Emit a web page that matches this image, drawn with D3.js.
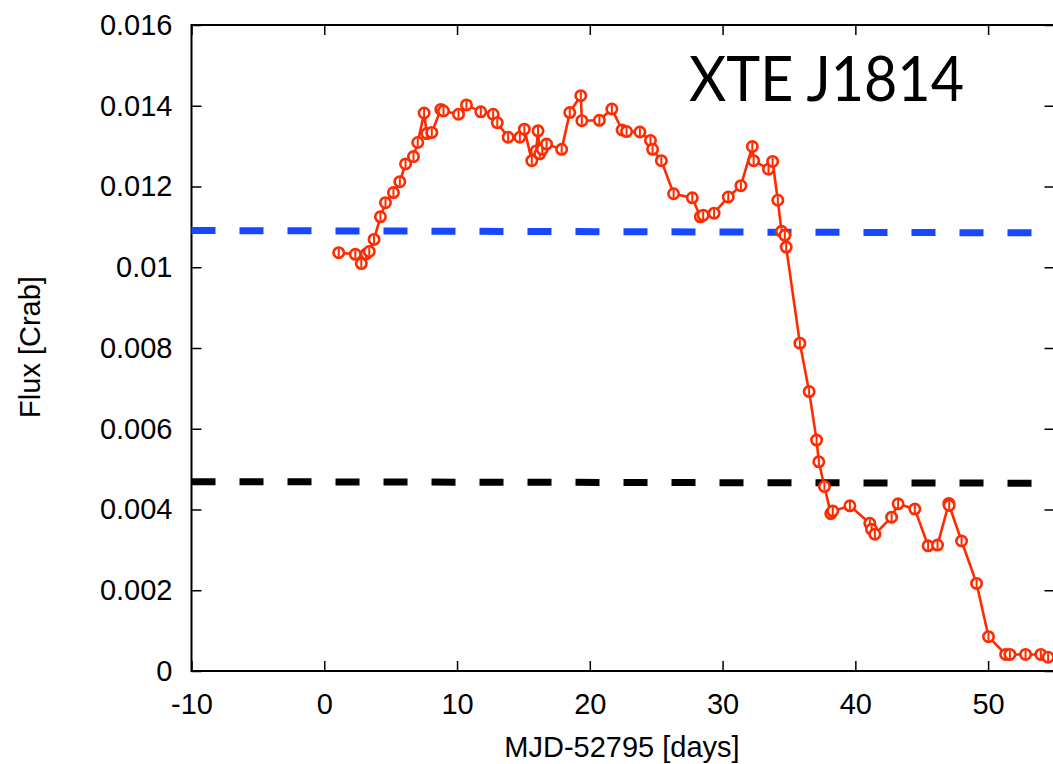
<!DOCTYPE html>
<html>
<head>
<meta charset="utf-8">
<script src="https://cdn.jsdelivr.net/npm/d3@7"></script>
<style>
  body { margin: 0; background: #fff; }
  text { font-family: "Liberation Sans", Arial, Helvetica, sans-serif; }
</style>
</head>
<body>
<div id="svg-area"></div>
<script>

// light curve (days since MJD 52795, flux in Crab)
const days = [1.09, 2.34, 2.79, 3.16, 3.39, 3.75, 4.23, 4.61, 5.21, 5.69,
  6.12, 6.72, 7.04, 7.52, 7.72, 8.10, 8.78, 8.98, 10.11, 10.71,
  11.79, 12.72, 13.03, 13.85, 14.73, 15.07, 15.63, 15.96, 16.10, 16.23,
  16.42, 16.74, 17.88, 18.49, 19.32, 19.40, 20.72, 21.66, 22.43, 22.77,
  23.77, 24.57, 24.73, 25.39, 26.31, 27.72, 28.32, 28.54, 29.36, 30.43,
  31.38, 32.24, 32.34, 33.46, 33.77, 34.16, 34.44, 34.69, 34.79, 35.82,
  36.52, 37.08, 37.25, 37.67, 38.15, 38.30, 39.59, 41.09, 41.22, 41.47,
  42.73, 43.22, 44.48, 45.48, 46.19, 47.04, 47.07, 48.00, 49.13, 50.03,
  51.32, 51.64, 52.82, 53.97, 54.52]

const flux = [0.01036, 0.01032, 0.01009, 0.01033, 0.01039, 0.01069, 0.01125, 0.01160, 0.01185, 0.01212,
  0.01256, 0.01274, 0.01309, 0.01382, 0.01331, 0.01334, 0.01391, 0.01387, 0.01379, 0.01402,
  0.01385, 0.01379, 0.01358, 0.01322, 0.01322, 0.01342, 0.01264, 0.01288, 0.01338, 0.01281,
  0.01292, 0.01305, 0.01292, 0.01383, 0.01425, 0.01363, 0.01364, 0.01392, 0.01340, 0.01336,
  0.01335, 0.01314, 0.01292, 0.01264, 0.01182, 0.01172, 0.01125, 0.01129, 0.01134, 0.01174,
  0.01202, 0.01299, 0.01264, 0.01243, 0.01262, 0.01166, 0.01089, 0.01079, 0.01050, 0.00812,
  0.00692, 0.00572, 0.00518, 0.00457, 0.00390, 0.00396, 0.00409, 0.00366, 0.00351, 0.00339,
  0.00381, 0.00414, 0.00401, 0.00310, 0.00312, 0.00415, 0.00410, 0.00322, 0.00217, 0.00085,
  0.00041, 0.00041, 0.00041, 0.00041, 0.00034]

// the two reference levels (start / end of the x range)
const blueLevel = [0.01091, 0.01085]
const blackLevel = [0.00469, 0.00465]

const xTicks = [-10, 0, 10, 20, 30, 40, 50]
const yTicks = [0, 0.002, 0.004, 0.006, 0.008, 0.01, 0.012, 0.014, 0.016]
const yTickLabels = ["0", "0.002", "0.004", "0.006", "0.008", "0.01", "0.012", "0.014", "0.016"]

const xDomain = [-10, 55]
const yDomain = [0, 0.016]

const svgWidth = 1053;
const svgHeight = 764;

const margin = {
  top: 25,
  right: -1.5,
  bottom: 93,
  left: 191.5,
};

const chartWidth = svgWidth - margin.left - margin.right;
const chartHeight = svgHeight - margin.top - margin.bottom;

let svg = d3
  .select("#svg-area")
  .append("svg")
  .attr("height", svgHeight)
  .attr("width", svgWidth)
  .style("display", "block");

let chartGroup = svg.append("g")
  .attr("transform", `translate(${margin.left}, ${margin.top})`);

const x = d3.scaleLinear().domain(xDomain).range([0, chartWidth])
const y = d3.scaleLinear().domain(yDomain).range([chartHeight, 0])

const tickLen = 10

// axes, ticks pointing inward
let xAxis = chartGroup.append("g")
  .attr("transform", `translate(0, ${chartHeight})`)
  .call(d3.axisBottom(x).tickValues(xTicks).tickSize(-tickLen).tickPadding(22).tickFormat(d => d))

let yAxis = chartGroup.append("g")
  .call(d3.axisLeft(y).tickValues(yTicks).tickSize(-tickLen).tickPadding(19)
    .tickFormat((d, i) => yTickLabels[i]))

// mirrored ticks on top and right
chartGroup.append("g")
  .call(d3.axisTop(x).tickValues(xTicks).tickSize(-tickLen).tickFormat(""))

chartGroup.append("g")
  .attr("transform", `translate(${chartWidth}, 0)`)
  .call(d3.axisRight(y).tickValues(yTicks).tickSize(-tickLen).tickFormat(""))

chartGroup.selectAll(".domain").remove()
chartGroup.selectAll(".tick line").attr("stroke", "#000").attr("stroke-width", 1.5)
chartGroup.selectAll(".tick text")
  .attr("font-size", 29)
  .attr("font-family", "'Liberation Sans', Arial, sans-serif")
  .attr("fill", "#000")

chartGroup.append("rect")
  .attr("x", 0)
  .attr("y", 0)
  .attr("width", chartWidth)
  .attr("height", chartHeight)
  .attr("fill", "none")
  .attr("stroke", "#000")
  .attr("stroke-width", 2)

// dashed levels
function levelLine(lv, color) {
  chartGroup.append("line")
    .attr("x1", x(xDomain[0]))
    .attr("x2", x(xDomain[1]))
    .attr("y1", y(lv[0]))
    .attr("y2", y(lv[1]))
    .attr("stroke", color)
    .attr("stroke-width", 7)
    .attr("stroke-dasharray", "24,24")
}
levelLine(blueLevel, "#1747ff")
levelLine(blackLevel, "#000")

// light curve
const red = "#ff2a00"
const pts = days.map((d, i) => [d, flux[i]])

let line = d3.line().x(p => x(p[0])).y(p => y(p[1]))

chartGroup.append("path")
  .datum(pts)
  .attr("d", line)
  .attr("fill", "none")
  .attr("stroke", red)
  .attr("stroke-width", 2.6)

let pointsGroup = chartGroup.selectAll(".pt")
  .data(pts)
  .enter()
  .append("g")
  .attr("class", "pt")
  .attr("transform", p => `translate(${x(p[0])}, ${y(p[1])})`)

pointsGroup.append("circle")
  .attr("r", 5.2)
  .attr("fill", "#fff")
  .attr("stroke", red)
  .attr("stroke-width", 2.6)

// small error bar inside each marker
pointsGroup.append("line")
  .attr("y1", -4)
  .attr("y2", 4)
  .attr("stroke", red)
  .attr("stroke-width", 2)

// labels
svg.append("text")
  .attr("x", 622)
  .attr("y", 757)
  .attr("text-anchor", "middle")
  .attr("font-size", 29)
  .text("MJD-52795 [days]")

svg.append("text")
  .attr("transform", "translate(40, 347) rotate(-90)")
  .attr("text-anchor", "middle")
  .attr("font-size", 29)
  .text("Flux [Crab]")

svg.append("text")
  .attr("x", 689)
  .attr("y", 101)
  .attr("font-size", 61)
  .style("font-family", "Lato, 'Open Sans', sans-serif")
  .attr("textLength", 275)
  .attr("lengthAdjust", "spacingAndGlyphs")
  .text("XTE J1814")

</script>
</body>
</html>
